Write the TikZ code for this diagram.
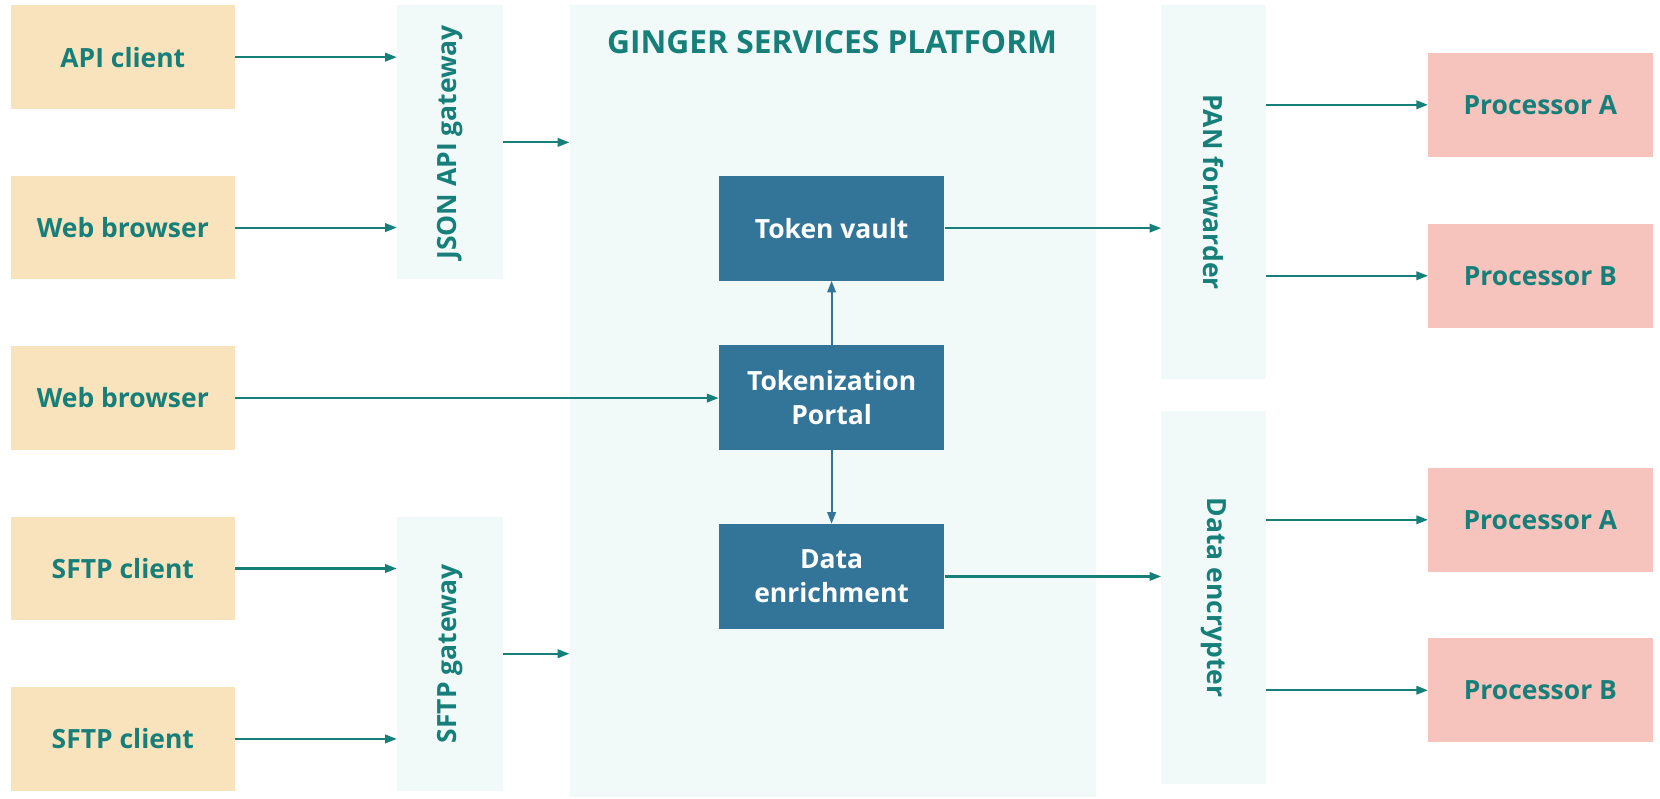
\documentclass[tikz,border=0pt]{standalone}
\usepackage{fontspec}
\setmainfont{Open Sans}
\usetikzlibrary{arrows.meta}
\definecolor{gteal}{HTML}{167F7A}
\definecolor{gorange}{HTML}{F8E3BC}
\definecolor{gpink}{HTML}{F6C4BC}
\definecolor{gpanel}{HTML}{F1FAF9}
\definecolor{gblue}{HTML}{327598}
\begin{document}
\begin{tikzpicture}[x=1pt,y=-1pt,
  lbl/.style={font=\fontsize{25}{32}\selectfont\bfseries, text=gteal},
  client/.style={rectangle, fill=gorange, inner sep=0pt, minimum width=212pt, minimum height=98pt, lbl},
  proc/.style={rectangle, fill=gpink, inner sep=0pt, minimum width=212pt, minimum height=98pt, lbl},
  panel/.style={rectangle, fill=gpanel, inner sep=0pt},
  core/.style={rectangle, fill=gblue, inner sep=0pt, minimum width=213pt, minimum height=99pt, align=center, font=\fontsize{25}{32}\selectfont\bfseries, text=white},
  arr/.style={draw=gteal, line width=2pt, -{Triangle[length=11pt,width=8pt]}},
  barr/.style={draw=gblue, line width=2pt, -{Triangle[length=11pt,width=8pt]}}
]
\useasboundingbox (0,0) rectangle (1568,753.8);
\fill[white] (0,0) rectangle (1568,753.8);

% panels
\node[panel, minimum width=497pt, minimum height=748pt] (plat) at (786.5,379) {};
\node[panel, minimum width=100pt, minimum height=259pt] (json) at (425,134.5) {};
\node[panel, minimum width=100pt, minimum height=259pt] (sftp) at (425,617.5) {};
\node[panel, minimum width=99pt, minimum height=353pt] (pan) at (1146.5,181.5) {};
\node[panel, minimum width=99pt, minimum height=353pt] (enc) at (1146.5,564.5) {};

\node[lbl, rotate=90] (jsonl) at (json.center) {JSON API gateway};
\node[lbl, rotate=90] (sftpl) at (sftp.center) {SFTP gateway};
\node[lbl, rotate=-90] (panl) at (pan.center) {PAN forwarder};
\node[lbl, rotate=-90] (encl) at (enc.center) {Data encrypter};

\node[font=\fontsize{30}{34}\selectfont\bfseries, text=gteal] (title) at (786,40) {GINGER SERVICES PLATFORM};

% clients
\node[client] (api) at (116,54) {API client};
\node[client] (wb1) at (116,215) {Web browser};
\node[client] (wb2) at (116,376) {Web browser};
\node[client] (sf1) at (116,537) {SFTP client};
\node[client] (sf2) at (116,698) {SFTP client};

% core
\node[core] (vault) at (785.5,215.5) {Token vault};
\node[core] (portal) at (785.5,375.5) {Tokenization\\Portal};
\node[core] (enrich) at (785.5,544.5) {Data\\enrichment};

% processors
\node[proc] (pa1) at (1455,99) {Processor A};
\node[proc] (pb1) at (1455,260.5) {Processor B};
\node[proc] (pa2) at (1455,491) {Processor A};
\node[proc] (pb2) at (1455,652) {Processor B};

% connectors
\draw[arr] (api.east) -- (api.east -| json.west);
\draw[arr] (wb1.east) -- (wb1.east -| json.west);
\draw[arr] (json.east) -- (json.east -| plat.west);
\draw[arr] (wb2.east) -- (wb2.east -| portal.west);
\draw[arr] (sf1.east) -- (sf1.east -| sftp.west);
\draw[arr] (sf2.east) -- (sf2.east -| sftp.west);
\draw[arr] (sftp.east) -- (sftp.east -| plat.west);
\draw[barr] (portal.north) -- (vault.south);
\draw[barr] (portal.south) -- (enrich.north);
\draw[arr] (vault.east) -- (vault.east -| pan.west);
\draw[arr] (enrich.east) -- (enrich.east -| enc.west);
\draw[arr] (pan.east |- pa1.west) -- (pa1.west);
\draw[arr] (pan.east |- pb1.west) -- (pb1.west);
\draw[arr] (enc.east |- pa2.west) -- (pa2.west);
\draw[arr] (enc.east |- pb2.west) -- (pb2.west);
\end{tikzpicture}
\end{document}
